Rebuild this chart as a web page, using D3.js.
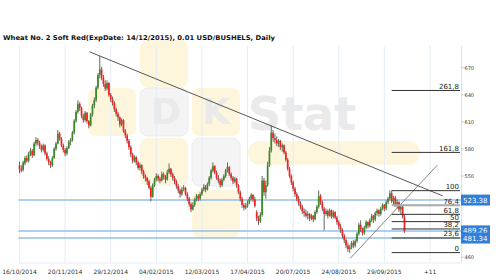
<!DOCTYPE html>
<html>
<head>
<meta charset="utf-8">
<script src="https://cdn.jsdelivr.net/npm/d3@7"></script>
<style>
    body { margin: 0; background: #fff; }
    svg { display: block; font-family: "DejaVu Sans", Verdana, sans-serif; }
</style>
</head>
<body>
<svg id="drawing_region"></svg>
<script>
// daily bars, oldest first
const opens = [562,558,557,564,570,567,575,578,573,586,590,587,583,579,584,575,569,565,562,570,
    580,586,597,591,584,579,575,581,588,590,598,611,621,630,625,617,612,620,611,606,
    618,628,634,648,662,668,659,652,647,653,640,635,631,624,619,615,607,612,600,595,
    589,582,574,567,571,565,559,562,555,550,548,544,537,527,540,546,550,547,545,552,
    549,546,554,558,552,548,544,539,534,530,535,537,530,525,519,513,518,524,528,525,
    530,535,538,535,541,548,556,561,554,548,545,540,546,550,556,560,552,548,544,547,
    540,532,525,518,515,517,521,525,529,524,510,503,500,507,545,532,540,562,578,598,
    592,590,586,589,582,584,576,568,558,550,543,536,530,525,520,516,511,509,506,508,
    503,506,502,510,516,528,521,514,508,511,506,512,505,510,504,499,494,490,484,479,
    473,469,471,476,473,478,486,496,491,487,493,499,495,501,506,502,509,512,508,514,
    518,514,521,525,531,522,526,518,521,513,516,505];
const highs = [566,562,567,572,573,577,581,580,588,593,592,589,585,586,585,577,572,567,572,582,
    588,601,599,593,586,581,583,590,592,600,613,623,634,632,627,619,622,621,612,620,
    630,637,650,664,683,671,662,656,656,654,642,638,633,626,621,616,614,613,602,597,
    591,584,576,573,572,567,565,563,557,552,549,546,539,542,548,553,552,549,555,554,
    551,557,564,559,554,550,546,541,536,538,540,538,532,527,521,521,526,530,530,532,
    537,541,540,543,550,558,565,562,556,551,547,548,552,558,565,561,554,550,549,548,
    541,534,527,520,520,523,527,531,530,527,512,506,510,550,548,545,566,582,606,601,
    597,594,591,590,586,585,578,570,560,552,545,538,532,528,522,518,514,513,511,509,
    508,507,512,518,534,530,523,516,514,513,514,513,512,511,506,501,497,492,486,481,
    476,474,478,479,480,488,498,501,493,495,501,500,503,508,507,511,514,513,516,520,
    519,523,527,534,533.8,528,528,524,522,518,517,507];
const lows = [553,554,555,562,565,565,572,570,572,583,584,580,576,577,573,567,562,559,560,569,
    578,585,589,582,576,572,573,580,584,588,596,609,619,622,614,609,610,608,603,605,
    616,625,632,646,658,656,649,644,645,638,632,628,621,616,611,604,605,598,592,586,
    579,571,564,565,562,557,556,552,547,544,540,535,522,526,538,544,544,542,544,546,
    542,545,552,549,545,541,536,531,526,528,533,528,522,516,510,512,516,522,522,523,
    528,533,532,534,539,546,554,552,546,542,537,538,544,548,554,550,545,541,542,537,
    530,522,515,512,513,515,519,523,521,515,500,496,498,505,528,525,538,560,576,588,
    586,583,582,579,577,574,566,556,548,540,533,527,522,517,513,508,505,504,502,500,
    501,499,501,508,514,518,511,490,506,503,505,503,503,502,496,491,487,481,476,470,
    466,465,469,470,471,476,484,488,484,485,491,492,493,499,498,500,506,505,506,512,
    511,512,519,523,520,517,516,514,510,508,503,487];
const closes = [558,556,565,570,567,575,578,573,586,590,587,583,579,584,575,569,565,562,570,580,
    586,597,591,584,579,575,581,588,590,598,611,621,630,625,617,612,620,611,606,618,
    628,634,648,662,668,659,652,647,653,640,635,631,624,619,615,607,612,600,595,589,
    582,574,567,571,565,559,562,555,550,548,544,537,527,540,546,550,547,545,552,549,
    546,554,558,552,548,544,539,534,530,535,537,530,525,519,513,518,524,528,525,530,
    535,538,535,541,548,556,561,554,548,545,540,546,550,556,560,552,548,544,547,540,
    532,525,518,515,517,521,525,529,524,517,503,500,507,545,532,540,562,578,598,592,
    590,586,589,582,584,576,568,558,550,543,536,530,525,520,516,511,509,506,508,503,
    506,502,510,516,528,521,514,508,511,506,512,505,510,504,499,494,490,484,479,473,
    469,471,476,473,478,486,496,491,487,493,499,495,501,506,502,509,512,508,514,518,
    514,521,525,531,522,526,518,521,513,516,505,489.26];

const tickIndex = [0,25,50,75,100,125,150,175,200,225];
const tickLabels = ["16/10/2014","20/11/2014","29/12/2014","04/02/2015","12/03/2015",
    "17/04/2015","20/07/2015","24/08/2015","29/09/2015","+11"];
const priceTicks = [460,550,580,610,640,670];

const fibLevels = [0,23.6,38.2,50,61.8,76.4,100,161.8,261.8];
const fibLabels = ["0","23,6","38,2","50","61,8","76,4","100","161,8","261,8"];
const fibLow = 465.2, fibHigh = 533.8, fibStart = 204;

const markers = [523.38, 489.26, 481.34];
const trendDown = [[38.3, 687.7], [232, 528]];
const trendUp = [[181.2, 458.7], [229, 562]];

const title = "Wheat  No. 2 Soft Red(ExpDate: 14/12/2015), 0.01 USD/BUSHELS, Daily";

const W = 500, H = 280;
const plot = {left: 19, right: 461.5, top: 46, bottom: 263};

const svg = d3.select('#drawing_region')
    .attr('width', W)
    .attr('height', H);

const x = d3.scaleLinear().domain([0, 225]).range([19.5, 430]);
const y = d3.scaleLinear().domain([460, 670]).range([257.3, 67.7]);

// watermark
const wm = svg.append('g');
const yellow = '#fdf6dc', grey = '#f4f4f4';
[[88,88,yellow],[140,40,yellow],[140,88,grey],[192,88,yellow],[140,138,yellow],[192,138,grey],[192,190,yellow]]
    .forEach(s => {
        wm.append('rect')
            .attr('x', s[0]).attr('y', s[1])
            .attr('width', 48).attr('height', 48)
            .attr('rx', 8)
            .attr('fill', s[2])
            .attr('stroke', s[2] == grey ? '#ececec' : 'none');
    });
wm.append('rect').attr('x', 248).attr('y', 141).attr('width', 172).attr('height', 24)
    .attr('rx', 12).attr('fill', yellow);
wm.append('text').attr('x', 166).attr('y', 124).attr('text-anchor', 'middle')
    .attr('font-size', 36).attr('font-weight', 'bold').attr('fill', '#eaeaea').text('D');
wm.append('text').attr('x', 216).attr('y', 124).attr('text-anchor', 'middle')
    .attr('font-size', 36).attr('font-weight', 'bold').attr('fill', '#eaeaea').text('K');
wm.append('text').attr('x', 248).attr('y', 130)
    .attr('font-size', 46).attr('font-weight', 'bold').attr('fill', '#eaeaea').text('Stat');

// vertical grid
svg.append('g').selectAll('line')
    .data(tickIndex)
    .join('line')
    .attr('x1', d => x(d)).attr('x2', d => x(d))
    .attr('y1', plot.top).attr('y2', plot.bottom)
    .attr('stroke', '#e4edf6').attr('stroke-width', 1);

// frame: right axis and bottom line
svg.append('line')
    .attr('x1', plot.right).attr('x2', plot.right)
    .attr('y1', plot.top).attr('y2', plot.bottom)
    .attr('stroke', '#d5e3f0');
svg.append('line')
    .attr('x1', plot.left).attr('x2', plot.right)
    .attr('y1', plot.bottom).attr('y2', plot.bottom)
    .attr('stroke', '#e4edf6');

// horizontal price lines
svg.append('g').selectAll('line')
    .data(markers)
    .join('line')
    .attr('x1', plot.left - 0.5).attr('x2', plot.right)
    .attr('y1', d => y(d)).attr('y2', d => y(d))
    .attr('stroke', '#93bfe9').attr('stroke-width', 1.5);

// candles
const bars = d3.range(closes.length);
const candles = svg.append('g');
candles.selectAll('line')
    .data(bars)
    .join('line')
    .attr('x1', i => x(i)).attr('x2', i => x(i))
    .attr('y1', i => y(highs[i])).attr('y2', i => y(lows[i]))
    .attr('stroke', '#555').attr('stroke-width', 0.9);
candles.selectAll('rect')
    .data(bars)
    .join('rect')
    .attr('x', i => x(i) - 0.85)
    .attr('y', i => y(Math.max(opens[i], closes[i])))
    .attr('width', 1.7)
    .attr('height', i => Math.max(0.8, Math.abs(y(opens[i]) - y(closes[i]))))
    .attr('fill', i => closes[i] >= opens[i] ? '#3a8a26' : '#ff1c1c');

// trend lines
const line = d3.line().x(d => x(d[0])).y(d => y(d[1]));
[trendDown, trendUp].forEach((t, k) => {
    svg.append('path')
        .attr('d', line(t))
        .attr('fill', 'none')
        .attr('stroke', k == 0 ? '#444' : '#666')
        .attr('stroke-width', k == 0 ? 0.9 : 0.8);
});

// fibonacci levels
const fib = svg.append('g');
fibLevels.forEach((l, k) => {
    const price = fibLow + (fibHigh - fibLow) * l / 100;
    fib.append('line')
        .attr('x1', x(fibStart)).attr('x2', plot.right - 1.5)
        .attr('y1', y(price)).attr('y2', y(price))
        .attr('stroke', l == 76.4 ? '#aaa' : '#333')
        .attr('stroke-width', l == 76.4 ? 2 : 1);
    fib.append('text')
        .attr('x', plot.right - 2.5).attr('y', y(price) - 1.5)
        .attr('text-anchor', 'end')
        .attr('font-size', 7).attr('fill', '#222')
        .text(fibLabels[k]);
});

// right axis labels
const ra = svg.append('g');
ra.selectAll('line')
    .data(priceTicks)
    .join('line')
    .attr('x1', plot.right).attr('x2', plot.right + 2)
    .attr('y1', d => y(d)).attr('y2', d => y(d))
    .attr('stroke', '#bbb');
ra.selectAll('text')
    .data(priceTicks)
    .join('text')
    .attr('x', plot.right + 3).attr('y', d => y(d) + 2)
    .attr('font-size', 5).attr('fill', '#333')
    .text(d => d);

// price boxes
markers.forEach(m => {
    svg.append('rect')
        .attr('x', plot.right - 0.5).attr('y', y(m) - 5.5)
        .attr('width', 29).attr('height', 11)
        .attr('fill', '#2f80d6');
    svg.append('text')
        .attr('x', plot.right + 1.5).attr('y', y(m) + 2.6)
        .attr('font-size', 7).attr('fill', '#fff')
        .text(d3.format('.2f')(m));
});

// bottom axis labels
svg.append('g').selectAll('text')
    .data(tickIndex)
    .join('text')
    .attr('x', d => x(d)).attr('y', 273.5)
    .attr('text-anchor', 'middle')
    .attr('font-size', 6).attr('fill', '#333')
    .text((d, k) => tickLabels[k]);

// title
svg.append('text')
    .attr('x', 3).attr('y', 39.5)
    .attr('font-size', 6.6).attr('font-weight', 'bold').attr('fill', '#111')
    .attr('textLength', 272).attr('lengthAdjust', 'spacingAndGlyphs')
    .text(title);
</script>
</body>
</html>
